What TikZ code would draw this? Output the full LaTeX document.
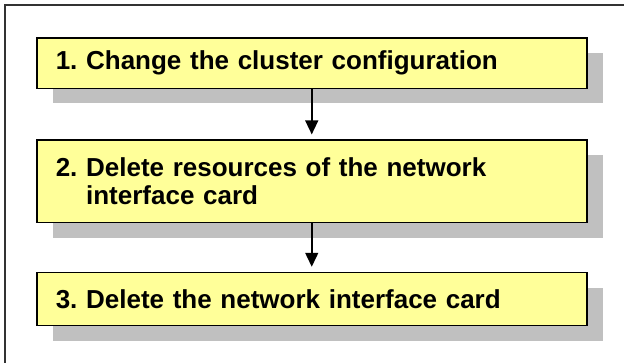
\documentclass[tikz,border=0pt]{standalone}
\usepackage{fontspec}
\setmainfont{Liberation Sans}
\usetikzlibrary{arrows.meta,shadows}
\definecolor{boxyellow}{RGB}{255,255,153}
\definecolor{shadowgray}{RGB}{192,192,192}
\definecolor{framegray}{RGB}{50,50,50}
\frenchspacing
\begin{document}
\begin{tikzpicture}[x=1pt,y=-1pt,
  stepbox/.style={draw=black, line width=1.5pt, fill=boxyellow,
    minimum width=550pt, text width=512pt, inner xsep=19pt, inner ysep=0pt,
    align=left, font=\fontsize{26}{28}\selectfont\bfseries,
    drop shadow={shadow xshift=16pt, shadow yshift=-15pt, fill=shadowgray, opacity=1}},
  flow/.style={line width=1.5pt, -{Triangle[width=13pt,length=14pt]}, shorten >=5pt}]
\useasboundingbox (0,0) rectangle (624,362);
\draw[framegray, line width=2pt] (4.5,370) -- (4.5,4.5) -- (630,4.5);
\node[stepbox, minimum height=50.5pt] (b1) at (311.75,63) {1. Change the cluster configuration};
\node[stepbox, minimum height=82.5pt] (b2) at (311.75,181.4) {2. Delete resources of the network\\\hphantom{2.\ }interface card};
\node[stepbox, minimum height=53pt] (b3) at (311.75,299) {3. Delete the network interface card};
\draw[flow] (b1) -- (b2);
\draw[flow] (b2) -- (b3);
\end{tikzpicture}
\end{document}
